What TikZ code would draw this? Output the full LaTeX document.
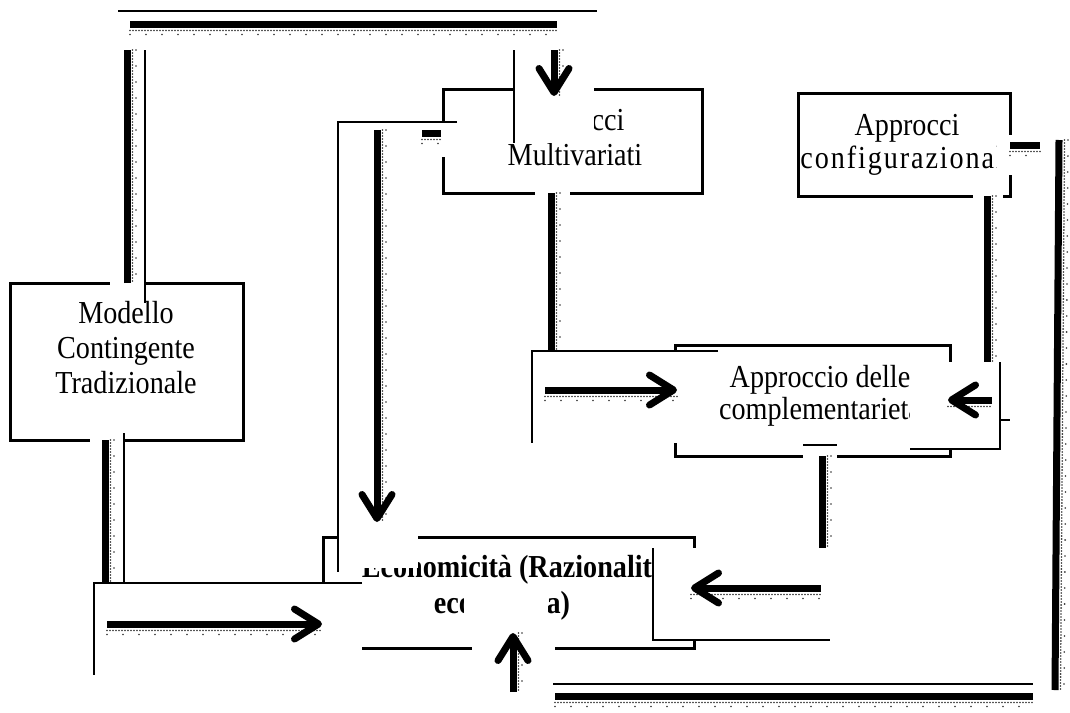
\documentclass[tikz,border=0pt]{standalone}
\usepackage{fontspec}
\setmainfont{Liberation Serif}[FakeStretch=0.88, BoldFeatures={FakeStretch=0.88}]
\usetikzlibrary{arrows.meta}
\begin{document}
\begin{tikzpicture}[x=1pt,y=-1pt,
  box/.style={draw, line width=3pt, inner sep=0pt},
  lbl/.style={anchor=base, inner sep=0pt, font=\fontsize{32}{35}\selectfont},
  blbl/.style={lbl, font=\fontsize{32}{35}\selectfont\bfseries},
  thinline/.style={line width=1.1pt},
  patch/.style={fill=white, draw=none},
  conn/.style={line width=7pt},
  arr/.style={conn, -{Straight Barb[length=24pt,width=30pt,round]}},
  dotdense/.style={line width=1.8pt, line cap=round, dash pattern=on 0pt off 3pt, black!80},
  dotsparse/.style={line width=1.8pt, line cap=round, dash pattern=on 0pt off 16pt, black!80}]
\useasboundingbox (0,0) rectangle (1070,712);
\fill[white] (0,0) rectangle (1070,712);

% ---- boxes ----
\node[box, minimum width=233pt, minimum height=157pt] (mod)  at (126.5,361.5) {};
\node[box, minimum width=259pt, minimum height=104pt] (mvar) at (572.5,141) {};
\node[box, minimum width=212pt, minimum height=103pt] (conf) at (904,144.5) {};
\node[box, minimum width=275pt, minimum height=111pt] (comp) at (812.5,400.5) {};
\node[box, minimum width=371pt, minimum height=111pt] (eco)  at (508.5,592.5) {};

% ---- labels ----
\node[lbl] (mod1) at (126,323) {Modello};
\node[lbl] (mod2) at (126,358) {Contingente};
\node[lbl] (mod3) at (126,393) {Tradizionale};
\node[lbl] (mv1) at (572,130) {Approcci};
\node[lbl] (mv2) at (575,165) {Multivariati};
\node[lbl] (cf1) at (907,135) {Approcci};
\node[lbl] (cf2) at (907,168) {\addfontfeature{LetterSpace=6}configurazionali};
\node[lbl] (cp1) at (820,387) {Approccio delle};
\node[lbl] (cp2) at (820,419) {complementarietà};
\node[blbl] (ec1) at (514,577) {Economicità (Razionalità};
\node[blbl] (ec2) at (502,613) {economica)};

% ---- white frames laid over the boxes ----
\path[patch] (110,270) rectangle (145,292);
\path[patch] (90,432) rectangle (124,448);
\path[patch] (514,50) rectangle (594,143);
\path[patch] (338,122) rectangle (457,157);
\path[patch] (338,122) rectangle (418,568);
\path[patch] (535,186) rectangle (570,200);
\path[patch] (1003,135) rectangle (1045,175);
\path[patch] (997,140) rectangle (1003,172);
\path[patch] (973,188) rectangle (1003,204);
\path[patch] (532,351) rectangle (718,443);
\path[patch] (910,362) rectangle (1000,449);
\path[patch] (803,445) rectangle (837,462);
\path[patch] (94,583) rectangle (362,675);
\path[patch] (653,548) rectangle (830,640);
\path[patch] (464,588) rectangle (548,632);
\path[patch] (472,640) rectangle (555,658);

% ---- frame edges ----
\draw[thinline] (118,11) -- (597,11);
\draw[thinline] (145,50) -- (145,303);
\draw[thinline] (514,50) -- (514,143);
\draw[thinline] (457,122) -- (338,122) -- (338,572);
\draw[thinline] (124,433) -- (124,583);
\draw[thinline] (362,583) -- (94,583) -- (94,675);
\draw[thinline] (718,351) -- (532,351) -- (532,443);
\draw[thinline] (1000,362) -- (1000,449) -- (910,449);
\draw[thinline] (1000,420) -- (1010,420);
\draw[thinline] (803,445) -- (837,445);
\draw[thinline] (653,548) -- (653,640) -- (830,640);
\draw[thinline] (553,684) -- (1033,684);

% ---- connector end points ----
\coordinate (c1a) at (127,283);  \coordinate (c1b) at (127,50);
\coordinate (c1c) at (130,24);   \coordinate (c1d) at (557,24);
\coordinate (c1e) at (554,50);   \coordinate (c1f) at (554,96);
\coordinate (c2a) at (105,440);  \coordinate (c2b) at (105,583);
\coordinate (c2c) at (107,624);  \coordinate (c2d) at (322,624);
\coordinate (c3a) at (441,133);  \coordinate (c3b) at (422,133);
\coordinate (c3c) at (377,130);  \coordinate (c3d) at (377,522);
\coordinate (c4a) at (551,193);  \coordinate (c4b) at (551,350);
\coordinate (c4c) at (545,390);  \coordinate (c4d) at (677,390);
\coordinate (c5a) at (987,196);  \coordinate (c5b) at (987,362);
\coordinate (c5c) at (992,400);  \coordinate (c5d) at (948,400);
\coordinate (c6a) at (822,456);  \coordinate (c6b) at (822,548);
\coordinate (c6c) at (821,588);  \coordinate (c6d) at (691,588);
\coordinate (c7a) at (1010,145); \coordinate (c7b) at (1040,145);
\coordinate (c7c) at (1059,140); \coordinate (c7d) at (1055,690);
\coordinate (c7e) at (1033,696); \coordinate (c7f) at (555,696);
\coordinate (c7g) at (513,692);  \coordinate (c7h) at (513,633);

% ---- dotted shading beside the thick strokes ----
\foreach \p/\q in {c1c/c1d, c2c/c2d, c3b/c3a, c4c/c4d, c6d/c6c, c7f/c7e, c7a/c7b} {
  \draw[dotdense]  ([yshift=-6.5pt]\p) -- ([yshift=-6.5pt]\q);
  \draw[dotsparse] ([yshift=-10.5pt]\p) -- ([yshift=-10.5pt]\q);
}
\foreach \p/\q in {c1b/c1a, c2a/c2b, c3c/c3d, c4a/c4b, c5a/c5b, c6a/c6b, c7c/c7d, c1e/c1f, c7h/c7g} {
  \draw[dotdense]  ([xshift=5.5pt]\p) -- ([xshift=5.5pt]\q);
  \draw[dotsparse] ([xshift=9pt]\p) -- ([xshift=9pt]\q);
}
\draw[dotdense] ([yshift=-6.5pt]c5d) -- ([yshift=-6.5pt]c5c);

% ---- connectors ----
\draw[conn] (c1a) -- (c1b);
\draw[conn] (c1c) -- (c1d);
\draw[arr]  (c1e) -- (c1f);
\draw[conn] (c2a) -- (c2b);
\draw[arr]  (c2c) -- (c2d);
\draw[conn] (c3a) -- (c3b);
\draw[arr]  (c3c) -- (c3d);
\draw[conn] (c4a) -- (c4b);
\draw[arr]  (c4c) -- (c4d);
\draw[conn] (c5a) -- (c5b);
\draw[arr]  (c5c) -- (c5d);
\draw[conn] (c6a) -- (c6b);
\draw[arr]  (c6c) -- (c6d);
\draw[conn] (c7a) -- (c7b);
\draw[conn] (c7c) -- (c7d);
\draw[conn] (c7e) -- (c7f);
\draw[arr]  (c7g) -- (c7h);
\end{tikzpicture}
\end{document}
